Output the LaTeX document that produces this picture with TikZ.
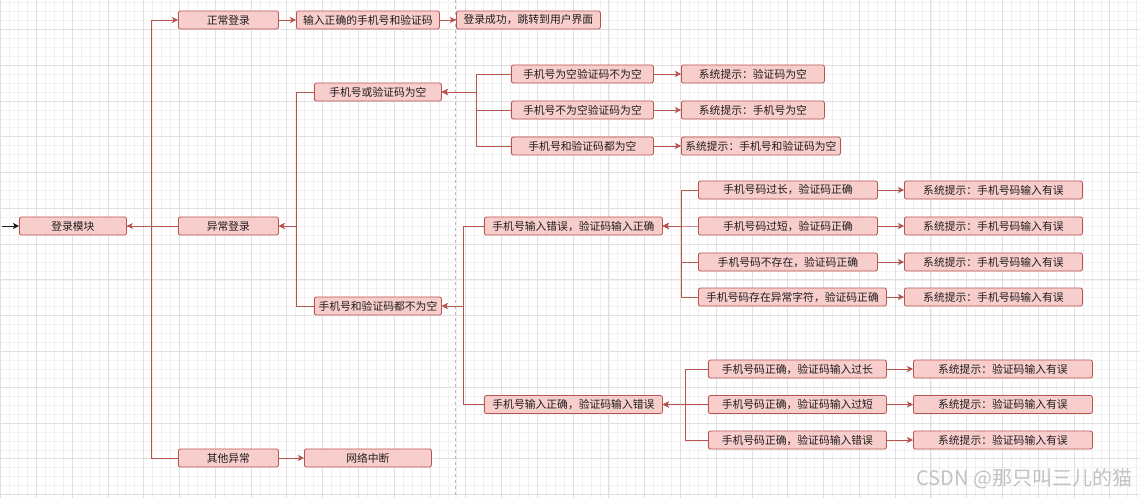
\documentclass[tikz,border=0pt]{standalone}
\usepackage{fontspec}
\setmainfont{Noto Sans CJK SC}
\usetikzlibrary{arrows.meta,positioning}
\definecolor{boxfill}{HTML}{F8CECC}
\definecolor{boxline}{HTML}{B85450}
\definecolor{ink}{HTML}{1E1E1E}
\definecolor{gridmajor}{HTML}{E0E0E0}
\definecolor{gridminor}{HTML}{F1F1F1}
\definecolor{pagebreak}{HTML}{B8B8B8}
\definecolor{wmark}{HTML}{C2C2C2}

\begin{document}
\begin{tikzpicture}[x=1pt,y=-1pt]
        \tikzstyle{itembox}=[draw=boxline,fill=boxfill,line width=0.8pt,rounded corners=2pt,minimum height=18pt,inner sep=0pt,anchor=west,text=ink,font=\fontsize{10.8}{12}\selectfont]
        \tikzstyle{link}=[draw=boxline,line width=0.8pt,-{Stealth[length=6pt,width=6pt,inset=1.5pt]}]
        \tikzstyle{branch}=[draw=boxline,line width=0.8pt]
        \useasboundingbox (0,0) rectangle (1140,498);
        % background grid
        \fill[white] (0,0) rectangle (1140,498);
        \foreach \k in {0,...,127} \draw[gridminor,line width=0.5pt] ({0.5+\k*8.945},0) -- ++(0,498);
        \foreach \k in {0,...,55} \draw[gridminor,line width=0.5pt] (0,{2.5+\k*8.945}) -- ++(1140,0);
        \foreach \k in {0,...,31} \draw[gridmajor,line width=0.6pt] ({0.5+\k*35.78},0) -- ++(0,498);
        \foreach \k in {0,...,13} \draw[gridmajor,line width=0.6pt] (0,{29.3+\k*35.78}) -- ++(1140,0);
        \draw[pagebreak,line width=0.6pt,dash pattern=on 3pt off 3pt] (455,0) -- (455,498);

        % first levels
        \node[itembox,minimum width=107pt] (login) at (19,226) {登录模块};
        \node[itembox,minimum width=100pt] (normal) at (178,20) {正常登录};
        \node[itembox,minimum width=100pt] (abnormal) at (178,226) {异常登录};
        \node[itembox,minimum width=100pt] (other) at (178,458) {其他异常};
        \node[itembox,minimum width=143pt] (input) at (296,20) {输入正确的手机号和验证码};
        \node[itembox,minimum width=144pt] (success) at (456,20) {登录成功，跳转到用户界面};
        \node[itembox,minimum width=127pt] (empty) at (314,92) {手机号或验证码为空};
        \node[itembox,minimum width=127pt] (filled) at (314,306) {手机号和验证码都不为空};
        \node[itembox,minimum width=127pt] (netdown) at (304,458) {网络中断};

        % empty input
        \node[itembox,minimum width=142pt] (phoneempty) at (511,74) {手机号为空验证码不为空};
        \node[itembox,minimum width=142pt] (codeempty) at (511,110) {手机号不为空验证码为空};
        \node[itembox,minimum width=142pt] (bothempty) at (511,146) {手机号和验证码都为空};
        \node[itembox,minimum width=143pt] (hintcode) at (681,74) {系统提示：验证码为空};
        \node[itembox,minimum width=143pt] (hintphone) at (681,110) {系统提示：手机号为空};
        \node[itembox,minimum width=159pt] (hintboth) at (681,146) {系统提示：手机号和验证码为空};

        % wrong phone number
        \node[itembox,minimum width=178pt] (phonewrong) at (484,226) {手机号输入错误，验证码输入正确};
        \node[itembox,minimum width=179pt] (toolong) at (698,190) {手机号码过长，验证码正确};
        \node[itembox,minimum width=179pt] (tooshort) at (698,226) {手机号码过短，验证码正确};
        \node[itembox,minimum width=179pt] (notexist) at (698,262) {手机号码不存在，验证码正确};
        \node[itembox,minimum width=188pt] (badchar) at (698,297) {手机号码存在异常字符，验证码正确};
        \node[itembox,minimum width=178pt] (hintlong) at (904,190) {系统提示：手机号码输入有误};
        \node[itembox,minimum width=178pt] (hintshort) at (904,226) {系统提示：手机号码输入有误};
        \node[itembox,minimum width=178pt] (hintexist) at (904,262) {系统提示：手机号码输入有误};
        \node[itembox,minimum width=178pt] (hintchar) at (904,297) {系统提示：手机号码输入有误};

        % wrong code
        \node[itembox,minimum width=178pt] (codewrong) at (484,404.5) {手机号输入正确，验证码输入错误};
        \node[itembox,minimum width=178pt] (codelong) at (708,369) {手机号码正确，验证码输入过长};
        \node[itembox,minimum width=178pt] (codeshort) at (708,404.5) {手机号码正确，验证码输入过短};
        \node[itembox,minimum width=178pt] (codebad) at (708,440) {手机号码正确，验证码输入错误};
        \node[itembox,minimum width=179pt] (hintcodelong) at (913,369) {系统提示：验证码输入有误};
        \node[itembox,minimum width=179pt] (hintcodeshort) at (913,404.5) {系统提示：验证码输入有误};
        \node[itembox,minimum width=179pt] (hintcodebad) at (913,440) {系统提示：验证码输入有误};

        \node[anchor=east,text=wmark,font=\fontsize{20}{20}\selectfont] (watermark) at (1136,479) {CSDN @那只叫三儿的猫};

        % connectors
        \coordinate (start) at (2,226);
        \draw[ink,line width=0.8pt,-{Stealth[length=6pt,width=6pt,inset=1.5pt]}] (start) -- (login);
        \draw[link] (abnormal) -- (login);
        \draw[link] (login.east) -- ++(25,0) |- (normal);
        \draw[branch] (login.east) -- ++(25,0) |- (other);
        \draw[link] (normal) -- (input);
        \draw[link] (input) -- (success);
        \draw[link] (other) -- (netdown);
        \draw[link] (empty.west) -- ++(-18,0) |- (abnormal);
        \draw[link] (filled.west) -- ++(-18,0) |- (abnormal);
        \foreach \n in {phoneempty,codeempty,bothempty} \draw[link] (\n.west) -- ++(-35,0) |- (empty);
        \draw[link] (phoneempty) -- (hintcode);
        \draw[link] (codeempty) -- (hintphone);
        \draw[link] (bothempty) -- (hintboth);
        \foreach \n in {phonewrong,codewrong} \draw[link] (\n.west) -- ++(-21,0) |- (filled);
        \foreach \n in {toolong,tooshort,notexist,badchar} \draw[link] (\n.west) -- ++(-17,0) |- (phonewrong);
        \draw[link] (toolong) -- (hintlong);
        \draw[link] (tooshort) -- (hintshort);
        \draw[link] (notexist) -- (hintexist);
        \draw[link] (badchar) -- (hintchar);
        \foreach \n in {codelong,codeshort,codebad} \draw[link] (\n.west) -- ++(-23,0) |- (codewrong);
        \draw[link] (codelong) -- (hintcodelong);
        \draw[link] (codeshort) -- (hintcodeshort);
        \draw[link] (codebad) -- (hintcodebad);
\end{tikzpicture}
\end{document}
